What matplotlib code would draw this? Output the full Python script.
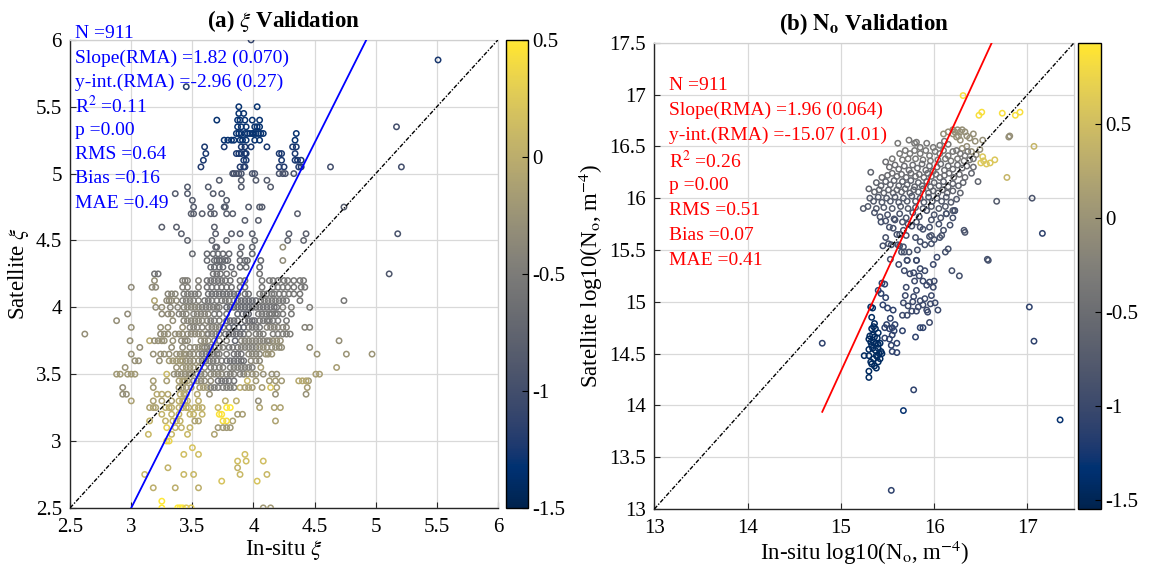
#!/usr/bin/env python3
"""Satellite vs in-situ validation of xi and N_o (two scatter panels)."""
import numpy as np
import matplotlib as mpl
mpl.use('Agg')
import matplotlib.pyplot as plt
from matplotlib.colors import Normalize

mpl.rcParams.update({
    'font.family': ['Liberation Serif', 'DejaVu Serif'],
    'mathtext.fontset': 'stix',
    'axes.unicode_minus': False,
})

CMAP = plt.get_cmap('cividis')

# ---------------- panel (a): xi, rows of (y, colour, [x ...]) ----------------
XI_TOP = [
    (6.00, -1.10, [3.98]),
    (5.85, -1.25, [5.51]),
    (5.65, -1.20, [3.45]),
    (5.50, -1.30, [3.88, 4.03]),
    (5.45, -1.30, [3.88, 3.92]),
    (5.40, -1.30, [3.70, 3.87, 3.89, 3.93, 3.99, 4.05]),
    (5.35, -1.30, [3.87, 3.90, 3.94, 4.01, 4.03, 4.05]),
    (5.35, -1.00, [5.17]),
    (5.30, -1.30, [3.86, 3.88, 3.90, 3.93, 3.95, 3.97, 3.99, 4.00, 4.02, 4.04, 4.06, 4.08, 4.35]),
    (5.25, -1.30, [3.76, 3.79, 3.82, 3.84, 3.89, 3.91, 3.94, 4.01, 4.05, 4.34]),
    (5.20, -1.25, [3.60, 3.76, 3.90, 3.93, 3.98, 4.11, 4.32, 4.35]),
    (5.15, -1.25, [3.61, 3.86, 3.88, 3.90, 3.93, 3.94, 4.21, 4.23, 4.34]),
    (5.10, -1.25, [3.59, 3.92, 3.94, 4.23, 4.34, 4.36, 4.39]),
    (5.05, -1.20, [3.57, 3.89, 3.92, 3.93, 4.21, 4.25, 4.37, 4.39]),
    (5.05, -1.00, [4.63, 5.21]),
    (5.00, -0.95, [3.83, 3.84, 3.86, 3.88, 3.90, 3.99, 4.01, 4.21, 4.24, 4.26, 4.33]),
]

XI_UPPER = [
    (4.95, -0.85, [3.72, 3.90, 4.02, 4.11]),
    (4.90, -0.85, [3.46, 3.63, 3.90, 4.14]),
    (4.85, -0.85, [3.36, 3.46, 3.67, 3.74]),
    (4.80, -0.85, [3.50, 3.78]),
    (4.75, -0.85, [3.51, 3.65, 3.76, 3.77, 3.96, 4.05, 4.07, 4.74]),
    (4.70, -0.80, [3.49, 3.51, 3.58, 3.65, 3.68, 3.78, 3.83, 4.36]),
    (4.65, -0.80, [3.93, 4.04]),
    (4.60, -0.80, [3.25, 3.37, 3.68]),
    (4.55, -0.80, [3.41, 3.69, 3.82, 3.89, 3.99, 4.29, 4.43]),
    (4.55, -0.95, [5.18]),
    (4.50, -0.75, [3.46, 3.66, 3.78, 4.01, 4.28, 4.41]),
    (4.45, -0.75, [3.69, 3.70, 3.90, 3.99]),
    (4.45, -0.30, [4.24]),
    (4.40, -0.70, [3.50, 3.62, 3.67, 3.71, 3.75, 3.80, 3.89, 3.99]),
    (4.35, -0.70, [3.62, 3.68, 3.70, 3.72, 3.74, 3.77, 3.79, 3.89, 3.93, 3.95, 4.06]),
    (4.35, -0.35, [4.24]),
    (4.30, -0.70, [3.65, 3.68, 3.72, 3.75, 3.82, 3.89, 3.94, 4.05]),
    (4.25, -0.60, [3.19, 3.22, 3.67, 3.70, 3.73, 3.78, 3.84, 4.05]),
    (4.25, -0.90, [5.11]),
]

XI_MID = [
    (4.20, -0.30, [3.19]),
    (4.20, -0.45, [3.42, 3.44, 3.46, 3.55]),
    (4.20, -0.60, [3.62, 3.65, 3.68, 3.71, 3.74, 3.77, 3.81, 3.89, 3.93]),
    (4.20, -0.55, [4.07, 4.13, 4.16, 4.20, 4.25, 4.28, 4.33, 4.38, 4.41]),
    (4.15, -0.35, [3.00, 3.17, 3.20]),
    (4.15, -0.45, [3.42, 3.46, 3.55]),
    (4.15, -0.60, [3.62, 3.66, 3.70, 3.74, 3.78, 3.82, 3.89, 3.93]),
    (4.15, -0.55, [4.07, 4.16, 4.20, 4.24, 4.28, 4.33, 4.39, 4.42]),
    (4.10, -0.40, [3.30, 3.33, 3.36]),
    (4.10, -0.50, [3.43, 3.46, 3.49, 3.52, 3.55]),
    (4.10, -0.62, [3.63, 3.66, 3.69, 3.72, 3.75, 3.78, 3.81, 3.84, 3.87, 3.93, 3.96]),
    (4.10, -0.55, [4.05, 4.08, 4.11, 4.15, 4.17, 4.21, 4.25, 4.29, 4.33, 4.38]),
    (4.05, -0.10, [3.19]),
    (4.05, -0.35, [3.29, 3.31, 3.33, 3.37]),
    (4.05, -0.45, [3.42, 3.45, 3.48, 3.51, 3.55]),
    (4.05, -0.55, [3.60, 3.63, 3.66, 3.70, 3.74, 3.77, 3.80, 3.84]),
    (4.05, -0.68, [3.87, 3.90, 3.93, 3.96, 3.99, 4.02]),
    (4.05, -0.55, [4.06, 4.09, 4.12, 4.15, 4.18, 4.21, 4.24, 4.27, 4.38, 4.74]),
    (4.00, -0.30, [3.20, 3.25]),
    (4.00, -0.40, [3.32, 3.38, 3.43, 3.46, 3.49, 3.52, 3.55]),
    (4.00, -0.50, [3.58, 3.61, 3.64, 3.67, 3.70, 3.72]),
    (4.00, -0.70, [3.78, 3.81, 3.84, 3.87, 3.90, 3.93, 3.96, 3.99]),
    (4.00, -0.60, [4.02, 4.05, 4.08, 4.11, 4.14, 4.17, 4.19]),
    (4.00, -0.48, [4.24, 4.31, 4.46]),
    (3.95, -0.33, [2.97, 3.25, 3.30, 3.33]),
    (3.95, -0.42, [3.39, 3.42, 3.45, 3.51, 3.54, 3.57, 3.60, 3.63]),
    (3.95, -0.55, [3.68, 3.72, 3.78]),
    (3.95, -0.72, [3.87, 3.91, 3.94, 3.96]),
    (3.95, -0.55, [4.04, 4.07, 4.10, 4.13, 4.15, 4.18, 4.20, 4.24, 4.31]),
    (3.90, -0.30, [2.88, 3.34]),
    (3.90, -0.40, [3.43, 3.46, 3.49, 3.52, 3.55, 3.58, 3.62]),
    (3.90, -0.50, [3.65, 3.68, 3.72]),
    (3.90, -0.65, [3.78, 3.81, 3.84, 3.87, 3.93, 3.96, 3.99, 4.01]),
    (3.90, -0.55, [4.05, 4.08, 4.11, 4.13, 4.16, 4.20, 4.27]),
    (3.85, -0.28, [3.00, 3.24, 3.30, 3.42]),
    (3.85, -0.42, [3.48, 3.51, 3.54, 3.58, 3.63, 3.66, 3.69, 3.72, 3.75]),
    (3.85, -0.75, [3.80, 3.84, 3.88, 3.92]),
    (3.85, -0.55, [3.96, 3.99, 4.02, 4.05]),
    (3.85, -0.42, [4.11, 4.14, 4.17, 4.20, 4.24, 4.27, 4.42, 4.46]),
    (3.80, -0.30, [2.62, 3.24, 3.27, 3.30, 3.36, 3.39, 3.42]),
    (3.80, -0.35, [3.46, 3.49, 3.52, 3.55, 3.58, 3.62]),
    (3.80, -0.45, [3.63, 3.66, 3.69, 3.72]),
    (3.80, -0.65, [3.77, 3.80, 3.83, 3.86, 3.89, 3.92]),
    (3.80, -0.48, [3.96, 4.02, 4.05, 4.08, 4.16, 4.20, 4.24, 4.27, 4.30]),
    (3.75, -0.05, [3.15]),
    (3.75, -0.28, [2.99, 3.19, 3.22, 3.25, 3.27, 3.34]),
    (3.75, -0.35, [3.41, 3.44, 3.46, 3.57, 3.60, 3.63]),
    (3.75, -0.45, [3.68, 3.72, 3.78]),
    (3.75, -0.75, [3.85]),
    (3.75, -0.42, [3.90, 3.93, 3.96, 3.99, 4.02, 4.05, 4.08, 4.11, 4.13]),
    (3.75, -0.30, [4.16, 4.19, 4.22, 4.70]),
    (3.70, -0.30, [3.07, 3.33]),
    (3.70, -0.35, [3.42, 3.48, 3.52, 3.55, 3.58, 3.60]),
    (3.70, -0.45, [3.62, 3.65, 3.68, 3.72, 3.75]),
    (3.70, -0.55, [3.80, 3.83, 3.87]),
    (3.70, -0.45, [3.90, 3.93, 3.96, 3.99, 4.02]),
    (3.70, -0.32, [4.05, 4.08, 4.11, 4.15, 4.18, 4.21, 4.23, 4.46]),
    (3.65, -0.28, [3.00, 3.18, 3.24, 3.27, 3.31, 3.37, 3.40, 3.43, 3.45]),
    (3.65, -0.35, [3.48, 3.51, 3.55]),
    (3.65, -0.50, [3.58, 3.61, 3.64, 3.67, 3.70, 3.72, 3.78]),
    (3.65, -0.60, [3.84, 3.87, 3.90]),
    (3.65, -0.40, [3.96, 3.99, 4.02, 4.05]),
    (3.65, -0.25, [4.10, 4.12, 4.15, 4.52, 4.76, 4.97]),
    (3.60, -0.28, [3.03, 3.06, 3.23]),
    (3.60, -0.20, [3.31, 3.34, 3.37, 3.40, 3.42]),
    (3.60, -0.30, [3.45, 3.48, 3.51, 3.55]),
    (3.60, -0.50, [3.58, 3.61, 3.64, 3.67, 3.70, 3.74]),
    (3.60, -0.62, [3.78, 3.81, 3.84, 3.87, 3.90, 3.92]),
    (3.60, -0.38, [3.98, 4.02, 4.05]),
    (3.55, -0.25, [2.95, 3.37, 3.42, 3.45, 3.48, 3.51, 3.55]),
    (3.55, -0.35, [3.60]),
    (3.55, -0.47, [3.65, 3.68, 3.72, 3.75, 3.81, 3.84, 3.87, 3.90, 3.93, 3.96, 3.99]),
    (3.55, -0.15, [4.06, 4.68]),
]

XI_LOW = [
    (3.50, -0.20, [2.88, 2.91, 2.97, 3.00, 3.03]),
    (3.50, 0.10, [3.29]),
    (3.50, -0.30, [3.35, 3.38, 3.41, 3.44, 3.47, 3.49]),
    (3.50, -0.38, [3.54, 3.57, 3.60, 3.65, 3.68, 3.71, 3.74]),
    (3.50, -0.45, [3.78, 3.81, 3.84, 3.89, 3.92]),
    (3.50, -0.28, [3.95, 3.99, 4.02, 4.08, 4.15, 4.19]),
    (3.50, -0.15, [4.51, 4.54]),
    (3.45, -0.15, [3.18, 3.29, 3.39, 3.42, 3.44, 3.46]),
    (3.45, -0.35, [3.51, 3.54, 3.57, 3.60, 3.65]),
    (3.45, -0.60, [3.71, 3.74, 3.77, 3.80, 3.84]),
    (3.45, 0.10, [3.95]),
    (3.45, -0.20, [4.02, 4.13, 4.18, 4.23, 4.45]),
    (3.45, -0.05, [4.37, 4.40, 4.43]),
    (3.40, -0.30, [2.93]),
    (3.40, -0.18, [3.18, 3.39, 3.42, 3.45, 3.49, 3.56, 3.59, 3.62]),
    (3.40, -0.48, [3.65, 3.68, 3.71, 3.75, 3.78, 3.81, 3.84]),
    (3.40, 0.00, [3.89]),
    (3.40, -0.15, [3.93, 3.96, 3.99, 4.07, 4.19, 4.44]),
    (3.40, 0.20, [4.14]),
    (3.35, -0.30, [2.93, 2.96]),
    (3.35, -0.05, [3.21, 3.25, 3.30, 3.40, 3.43, 3.45, 3.54]),
    (3.35, -0.28, [3.64, 4.18, 4.43]),
    (3.30, -0.12, [3.00, 3.18, 3.25, 3.33]),
    (3.30, 0.00, [3.39, 3.42, 3.44, 3.46, 3.55, 3.77, 3.86]),
    (3.30, -0.30, [4.04]),
    (3.25, -0.10, [3.15, 3.18, 3.20]),
    (3.25, 0.00, [3.28, 3.31, 3.33, 3.39, 3.42, 3.45, 3.47, 3.52, 3.55, 3.58]),
    (3.25, 0.10, [3.71]),
    (3.25, 0.50, [3.78, 3.81]),
    (3.25, -0.10, [4.05, 4.17, 4.22]),
    (3.20, 0.05, [3.25, 3.33, 3.39, 3.48, 3.51, 3.58]),
    (3.20, 0.45, [3.72, 3.74]),
    (3.20, -0.15, [3.87, 3.91]),
    (3.15, 0.05, [3.15, 3.28, 3.34, 3.37, 3.40]),
    (3.15, -0.10, [3.52, 3.55, 3.83, 4.18]),
    (3.15, 0.40, [3.75, 3.78]),
    (3.10, 0.30, [3.29]),
    (3.10, 0.05, [3.36, 3.41, 3.48]),
    (3.10, -0.20, [3.71, 3.75, 3.78, 3.81]),
    (3.05, 0.10, [3.14, 3.33, 3.46]),
    (3.05, -0.10, [3.68]),
    (3.00, 0.35, [3.29, 3.31]),
    (2.95, 0.20, [3.50]),
    (2.90, 0.15, [3.43, 3.55, 3.93]),
    (2.85, 0.15, [3.87, 3.94, 4.08]),
    (2.80, 0.05, [3.30, 3.87]),
    (2.75, 0.10, [3.11, 3.43, 3.51, 3.89, 4.11]),
    (2.70, 0.20, [3.74, 4.03]),
    (2.65, 0.00, [3.18, 3.36, 3.55]),
    (2.55, 0.50, [3.25]),
    (2.50, 0.50, [3.25, 3.38, 3.40, 3.42]),
    (2.50, 0.25, [3.45, 3.49]),
    (2.50, -0.20, [4.08, 4.14]),
]

XI_STATS = ['N =911', 'Slope(RMA) =1.82 (0.070)', 'y-int.(RMA) =-2.96 (0.27)',
            'R$^2$ =0.11', 'p =0.00', 'RMS =0.64', 'Bias =0.16', 'MAE =0.49']
XI_SLOPE, XI_INT = 1.82, -2.96

# ---------------- panel (b): N_o, groups of (colour, [(x, y) ...]) ----------------
NO_YELLOW = [
    (0.85, [(16.31, 16.99), (16.48, 16.80), (16.51, 16.83), (16.73, 16.82),
            (16.87, 16.80), (16.92, 16.83)]),
    (0.60, [(16.50, 16.34), (16.53, 16.36), (16.56, 16.33), (16.60, 16.34),
            (16.65, 16.37), (16.52, 16.40)]),
    (0.40, [(16.78, 16.20), (17.07, 16.50)]),
]

NO_TOP = [
    (-0.05, [(16.20, 16.66), (16.22, 16.64), (16.25, 16.66), (16.28, 16.64), (16.30, 16.66),
             (16.33, 16.64), (16.26, 16.60), (16.35, 16.60), (16.42, 16.62), (16.44, 16.55),
             (16.10, 16.62), (16.15, 16.64), (16.20, 16.62), (16.24, 16.59), (16.28, 16.56),
             (16.38, 16.58), (16.49, 16.47), (16.52, 16.56), (16.81, 16.60), (16.80, 16.59),
             (16.35, 16.50), (16.30, 16.48), (16.40, 16.45), (16.45, 16.42)]),
    (-0.35, [(15.61, 16.53), (15.73, 16.56), (15.79, 16.53), (15.81, 16.54), (15.85, 16.49),
             (15.92, 16.53), (15.99, 16.49), (16.06, 16.51), (16.11, 16.55), (16.15, 16.52),
             (15.63, 16.43), (15.69, 16.46), (15.74, 16.43), (15.79, 16.46), (15.85, 16.43),
             (15.91, 16.46), (15.95, 16.41), (16.01, 16.45), (16.06, 16.43), (16.10, 16.46),
             (16.15, 16.41), (16.20, 16.45), (16.24, 16.46), (16.28, 16.43), (16.33, 16.41),
             (16.36, 16.45), (15.55, 16.38), (15.66, 16.37), (15.72, 16.38), (15.80, 16.38),
             (15.88, 16.37), (15.96, 16.36), (16.04, 16.37), (16.12, 16.38), (16.18, 16.36),
             (16.25, 16.38), (16.32, 16.36), (16.38, 16.37), (16.42, 16.38)]),
]

NO_CLUSTER = [
    (-0.50, [(15.48, 16.35), (15.52, 16.30), (15.58, 16.32), (15.62, 16.28), (15.68, 16.31),
             (15.73, 16.27), (15.77, 16.32), (15.82, 16.29), (15.87, 16.33), (15.91, 16.27),
             (15.95, 16.31), (15.99, 16.26), (16.03, 16.30), (16.07, 16.33), (16.11, 16.27),
             (16.15, 16.31), (16.20, 16.28), (16.25, 16.32), (16.30, 16.29), (16.35, 16.31),
             (16.42, 16.30), (15.44, 16.20), (15.50, 16.22), (15.55, 16.24), (15.60, 16.21),
             (15.65, 16.23), (15.70, 16.20), (15.75, 16.24), (15.80, 16.21), (15.84, 16.23),
             (15.89, 16.20), (15.93, 16.24), (15.97, 16.21), (16.02, 16.23), (16.06, 16.20),
             (16.11, 16.22), (16.16, 16.24), (16.21, 16.20), (16.27, 16.23), (16.33, 16.20)]),
    (-0.62, [(15.32, 16.25), (15.38, 16.15), (15.43, 16.12), (15.48, 16.16), (15.53, 16.13),
             (15.57, 16.17), (15.62, 16.12), (15.66, 16.16), (15.71, 16.13), (15.75, 16.17),
             (15.79, 16.11), (15.83, 16.15), (15.87, 16.12), (15.92, 16.16), (15.96, 16.11),
             (16.00, 16.15), (16.05, 16.12), (16.10, 16.16), (16.15, 16.11), (16.20, 16.14),
             (16.26, 16.12), (16.31, 16.15), (15.30, 16.09), (15.36, 16.06), (15.41, 16.08),
             (15.46, 16.05), (15.51, 16.08), (15.56, 16.05), (15.60, 16.08), (15.65, 16.06),
             (15.69, 16.09), (15.74, 16.05), (15.78, 16.08), (15.83, 16.06), (15.88, 16.09),
             (15.94, 16.05), (15.99, 16.07), (16.04, 16.05), (16.09, 16.08), (16.14, 16.05),
             (16.20, 16.07), (16.28, 16.05), (16.40, 16.24), (16.47, 16.16)]),
    (-0.74, [(15.31, 16.00), (15.35, 15.97), (15.40, 16.01), (15.44, 15.96), (15.49, 16.00),
             (15.53, 15.97), (15.58, 16.01), (15.62, 15.96), (15.67, 16.00), (15.71, 15.97),
             (15.76, 16.02), (15.80, 15.97), (15.85, 16.00), (15.89, 15.96), (15.94, 16.01),
             (15.98, 15.97), (16.03, 16.00), (16.08, 15.97), (16.13, 16.01), (16.18, 15.96),
             (16.24, 15.99), (15.24, 15.90), (15.29, 15.92), (15.38, 15.90), (15.46, 15.91),
             (15.55, 15.90), (15.64, 15.92), (15.72, 15.90), (15.80, 15.91), (15.88, 15.90),
             (15.97, 15.92), (16.05, 15.90), (16.12, 15.92), (16.20, 15.88), (16.67, 15.97)]),
    (-0.85, [(15.36, 15.86), (15.42, 15.82), (15.50, 15.84), (15.57, 15.80), (15.63, 15.85),
             (15.70, 15.81), (15.77, 15.86), (15.84, 15.82), (15.92, 15.88), (16.00, 15.84),
             (16.07, 15.81), (16.13, 15.85), (16.22, 15.88), (15.48, 15.78), (15.66, 15.77),
             (15.81, 15.77), (15.97, 15.79), (17.05, 16.00), (16.32, 15.69), (16.33, 15.67),
             (16.08, 15.64), (15.97, 15.64)]),
]

NO_LOWER = [
    (-0.90, [(15.43, 15.77), (15.52, 15.72), (15.56, 15.71), (15.60, 15.65), (15.63, 15.65),
             (15.67, 15.69), (15.72, 15.75), (15.76, 15.73), (15.45, 15.54), (15.51, 15.56),
             (15.54, 15.55), (15.63, 15.54), (15.65, 15.48), (15.68, 15.48), (15.73, 15.48),
             (15.71, 15.40), (15.53, 15.41), (15.81, 15.40), (15.80, 15.62), (15.85, 15.58),
             (15.90, 15.55), (15.88, 15.70), (15.95, 15.72), (16.00, 15.60), (16.05, 15.75),
             (15.58, 15.79), (15.82, 15.50), (15.48, 15.62), (15.61, 15.55), (15.67, 15.53),
             (15.70, 15.64), (15.85, 15.72), (15.95, 15.63), (15.97, 15.56), (16.06, 15.62),
             (16.10, 15.69), (16.17, 15.74), (16.20, 15.81), (16.13, 15.85), (16.22, 15.88),
             (16.12, 15.48), (16.15, 15.51), (16.19, 15.30), (16.27, 15.25), (16.58, 15.40),
             (16.57, 15.41)]),
    (-0.98, [(15.66, 14.87), (15.71, 14.87), (15.76, 14.91), (15.81, 14.91), (15.92, 14.92),
             (16.04, 14.92), (15.67, 14.99), (15.77, 15.00), (15.85, 15.01), (15.90, 15.03),
             (15.96, 14.98), (16.01, 14.99), (15.69, 15.06), (15.70, 15.14), (15.81, 15.11),
             (15.95, 14.80), (15.74, 15.27), (15.68, 15.30), (15.78, 15.28), (15.85, 15.32),
             (15.90, 15.30), (15.99, 15.36), (16.03, 15.43), (15.79, 15.20), (15.88, 15.20),
             (15.92, 15.16), (15.99, 15.14), (15.95, 15.19), (15.83, 14.95), (15.88, 14.97),
             (15.93, 14.90), (15.72, 14.96), (15.78, 15.05), (15.97, 15.06), (16.00, 15.20),
             (15.84, 15.25), (15.81, 15.40), (15.71, 15.40), (15.62, 15.36)]),
    (-1.10, [(15.47, 14.75), (15.49, 14.78), (15.52, 14.74), (15.55, 14.75), (15.57, 14.72),
             (15.55, 14.68), (15.58, 14.78), (15.53, 14.84), (15.47, 14.65), (15.52, 14.64),
             (15.54, 14.58), (15.55, 14.52), (15.60, 14.51), (15.60, 14.60), (15.56, 14.92),
             (15.50, 14.94), (15.45, 14.97), (15.48, 15.04), (15.47, 15.17), (15.40, 15.11),
             (15.43, 15.08), (15.44, 15.18), (15.66, 14.72), (15.80, 14.66), (15.85, 14.75),
             (15.88, 14.75), (14.80, 14.60), (17.02, 14.95), (17.07, 14.62), (15.78, 14.15),
             (15.54, 13.18), (17.16, 15.66)]),
    (-1.30, [(17.35, 13.86), (15.67, 13.95)]),
    (-1.45, [(15.30, 14.27), (15.30, 14.33), (15.25, 14.48), (15.30, 14.48), (15.33, 14.40),
             (15.36, 14.38), (15.38, 14.36), (15.40, 14.42), (15.39, 14.47), (15.41, 14.50),
             (15.43, 14.52), (15.30, 14.54), (15.34, 14.55), (15.37, 14.53), (15.32, 14.61),
             (15.35, 14.61), (15.38, 14.60), (15.40, 14.59), (15.42, 14.60), (15.31, 14.67),
             (15.34, 14.68), (15.36, 14.66), (15.33, 14.74), (15.35, 14.76), (15.37, 14.74),
             (15.36, 14.79), (15.33, 14.85), (15.32, 14.95), (15.34, 14.94), (15.30, 14.64),
             (15.40, 14.55), (15.44, 14.50), (15.38, 14.48), (15.35, 14.45), (15.32, 14.42),
             (15.42, 14.45), (15.33, 14.58), (15.39, 14.65), (15.40, 14.70)]),
]

NO_STATS = ['N =911', 'Slope(RMA) =1.96 (0.064)', 'y-int.(RMA) =-15.07 (1.01)',
            'R$^2$ =0.26', 'p =0.00', 'RMS =0.51', 'Bias =0.07', 'MAE =0.41']
NO_SLOPE, NO_INT = 1.96, -15.07


def unpack_rows(*blocks):
    xs, ys, cs = [], [], []
    for block in blocks:
        for y, c, row in block:
            xs += row
            ys += [y] * len(row)
            cs += [c] * len(row)
    return np.array(xs), np.array(ys), np.array(cs)


def unpack_groups(*blocks):
    xs, ys, cs = [], [], []
    for block in blocks:
        for c, pts in block:
            for x, y in pts:
                xs.append(x); ys.append(y); cs.append(c)
    return np.array(xs), np.array(ys), np.array(cs)


def style_axes(ax, lim, xticks, yticks):
    ax.set_xlim(*lim); ax.set_ylim(*lim)
    ax.set_xticks(xticks); ax.set_yticks(yticks)
    ax.set_xticklabels([f'{t:g}' for t in xticks])
    ax.set_yticklabels([f'{t:g}' for t in yticks])
    ax.grid(True, color='#d9d9d9', linewidth=0.9)
    ax.set_axisbelow(True)
    ax.tick_params(direction='in', length=4, labelsize=15, color='#262626')
    ax.tick_params(axis='x', pad=7)
    ax.tick_params(axis='y', pad=6)
    for side in ('left', 'bottom'):
        ax.spines[side].set_color('#262626'); ax.spines[side].set_linewidth(1.0)
    for side in ('top', 'right'):
        ax.spines[side].set_color('#d0d0d0'); ax.spines[side].set_linewidth(0.9)


def draw_panel(ax, cax, x, y, c, vlim, lim, xticks, yticks, slope, inter, line_col, stats,
               text_x, text_y0, text_dy, line_x):
    norm = Normalize(*vlim)
    ax.scatter(x, y, s=15, marker='o', facecolors='none',
               edgecolors=CMAP(norm(c)), linewidths=1.1, zorder=3)
    ax.plot(lim, lim, color='black', linewidth=1.0,
            linestyle=(0, (3, 1.2, 1, 1.2)), zorder=4)
    xx = np.array(line_x)
    ax.plot(xx, slope * xx + inter, color=line_col, linewidth=1.3, zorder=5)
    style_axes(ax, lim, xticks, yticks)
    for i, s in enumerate(stats):
        ax.text(text_x, text_y0 - i * text_dy, s, transform=ax.transAxes,
                color=line_col, fontsize=14, ha='left', va='center',
                clip_on=False, zorder=6)
    sm = mpl.cm.ScalarMappable(norm=norm, cmap=CMAP)
    cb = plt.colorbar(sm, cax=cax)
    cb.set_ticks([-1.5, -1, -0.5, 0, 0.5])
    cb.set_ticklabels(['-1.5', '-1', '-0.5', '0', '0.5'])
    cb.ax.tick_params(direction='in', length=4, labelsize=15)
    cb.outline.set_linewidth(1.0)


fig = plt.figure(figsize=(11.5, 5.7), dpi=100)
ax_a = fig.add_axes([0.061, 0.109, 0.372, 0.821])
cax_a = fig.add_axes([0.440, 0.109, 0.019, 0.821])
ax_b = fig.add_axes([0.569, 0.107, 0.365, 0.818])
cax_b = fig.add_axes([0.937, 0.107, 0.020, 0.818])

xa, ya, ca = unpack_rows(XI_TOP, XI_UPPER, XI_MID, XI_LOW)
ticks_a = [2.5, 3, 3.5, 4, 4.5, 5, 5.5, 6]
draw_panel(ax_a, cax_a, xa, ya, ca, (-1.5, 0.5), (2.5, 6), ticks_a, ticks_a,
           XI_SLOPE, XI_INT, 'blue', XI_STATS, 0.012, 1.013, 0.0517,
           [xa.min(), xa.max()])
ax_a.set_title(r'(a) $\xi$ Validation', fontsize=16.5, fontweight='bold', pad=9)
ax_a.set_xlabel(r'In-situ $\xi$', fontsize=16.5, labelpad=1)
ax_a.set_ylabel(r'Satellite $\xi$', fontsize=16.5, labelpad=3)

xb, yb, cb_ = unpack_groups(NO_YELLOW, NO_TOP, NO_CLUSTER, NO_LOWER)
draw_panel(ax_b, cax_b, xb, yb, cb_, (-1.55, 0.93), (13, 17.5),
           [13, 14, 15, 16, 17], [13, 13.5, 14, 14.5, 15, 15.5, 16, 16.5, 17, 17.5],
           NO_SLOPE, NO_INT, 'red', NO_STATS, 0.035, 0.908, 0.0536,
           [xb.min(), xb.max()])
ax_b.set_title(r'(b) $\mathbf{N_o}$ Validation', fontsize=16.5, fontweight='bold', pad=9)
ax_b.set_xlabel(r'In-situ log10(N$_\mathrm{o}$, m$^{\mathrm{-4}}$)', fontsize=16.5, labelpad=1)
ax_b.set_ylabel(r'Satellite log10(N$_\mathrm{o}$, m$^{\mathrm{-4}}$)', fontsize=16.5, labelpad=3)

fig.savefig('out.png', dpi=100)
plt.close()
